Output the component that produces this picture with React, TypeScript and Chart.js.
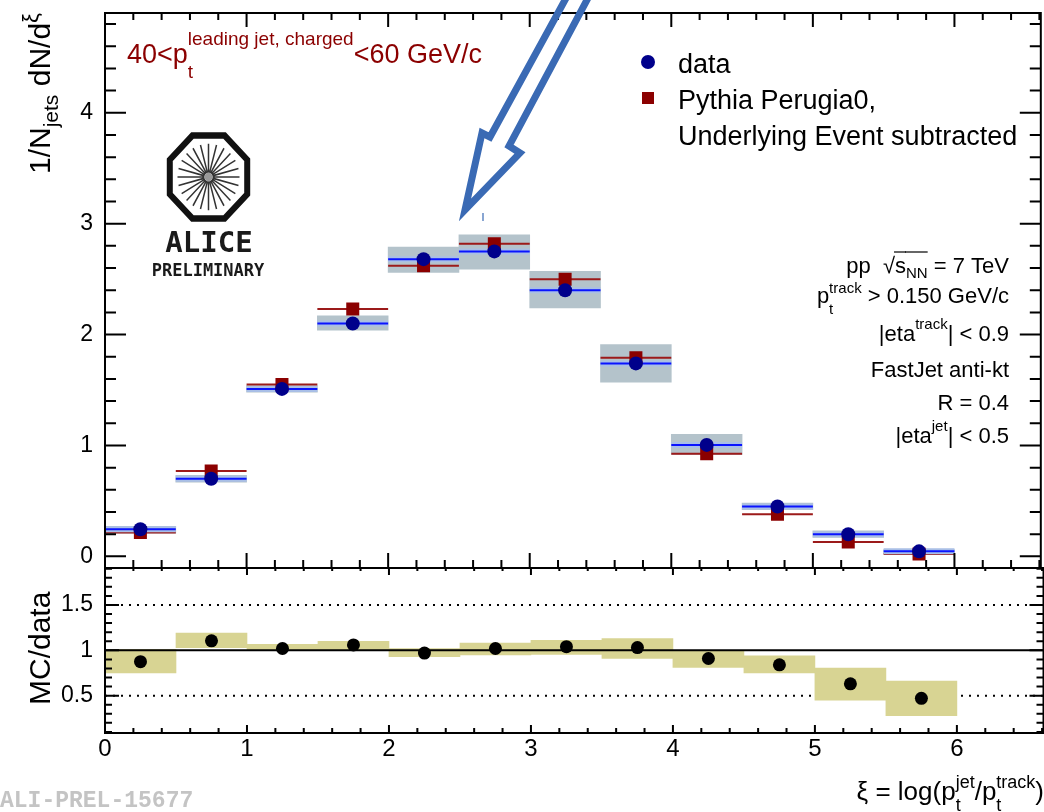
import React, { useEffect, useRef } from "react";
import { Chart, registerables } from "chart.js";

Chart.register(...registerables);

const FONT = '"Liberation Sans", Arial, Helvetica, sans-serif';
const MONO = '"DejaVu Sans Mono", "Liberation Mono", monospace';

// ---------- data ----------
const binCenters = [0.25, 0.75, 1.25, 1.75, 2.25, 2.75, 3.25, 3.75, 4.25, 4.75, 5.25, 5.75];
const binHalfWidth = 0.25;
const dataValues = [0.245, 0.70, 1.51, 2.10, 2.68, 2.75, 2.40, 1.74, 1.005, 0.45, 0.20, 0.045];
const dataSysLow = [0.21, 0.67, 1.48, 2.04, 2.56, 2.59, 2.24, 1.57, 0.92, 0.42, 0.17, 0.022];
const dataSysHigh = [0.27, 0.73, 1.54, 2.17, 2.79, 2.90, 2.57, 1.91, 1.10, 0.48, 0.23, 0.06];
const mcValues = [0.215, 0.77, 1.55, 2.23, 2.62, 2.82, 2.50, 1.79, 0.925, 0.38, 0.13, 0.021];
const ratioValues = [0.875, 1.105, 1.02, 1.06, 0.97, 1.02, 1.04, 1.03, 0.91, 0.84, 0.63, 0.47];
const ratioSysLow = [0.75, 1.03, 1.0, 1.0, 0.93, 0.95, 0.955, 0.91, 0.81, 0.75, 0.45, 0.28];
const ratioSysHigh = [1.01, 1.19, 1.066, 1.10, 1.02, 1.08, 1.11, 1.13, 1.0, 0.94, 0.805, 0.66];
const ratioSolidLevels = [1];
const ratioDottedLevels = [0.5, 1.5];

const xTicks = [0, 1, 2, 3, 4, 5, 6];
const topYTicks = [0, 1, 2, 3, 4];
const ratioYTicks = [0.5, 1, 1.5];

const X_MIN = 0;
const X_MAX = 6.61;
const TOP_Y_MIN = -0.105;
const TOP_Y_MAX = 4.9;
const RATIO_Y_MIN = 0.088;
const RATIO_Y_MAX = 1.908;

// annotation arrow outline (decoration, not data)
const ARROW = [
  [570.5, -10], [490, 137], [482, 133], [465, 210], [520, 153], [509, 146], [592.3, -10],
];

// ---------- helpers ----------
function hSegments(values: number[]) {
  const pts: { x: number; y: number }[] = [];
  binCenters.forEach((c, i) => {
    pts.push({ x: c - binHalfWidth, y: values[i] });
    pts.push({ x: c + binHalfWidth, y: values[i] });
    pts.push({ x: c + binHalfWidth, y: NaN });
  });
  return pts;
}

function levelLine(level: number) {
  return [{ x: X_MIN, y: level }, { x: X_MAX, y: level }];
}

function drawAxisTicks(
  ctx: CanvasRenderingContext2D, scale: any, fixed: number, vertical: boolean,
  majorStep: number, minorStep: number, majLen: number, minLen: number, dir: number
) {
  const k0 = Math.ceil(scale.min / minorStep - 1e-6);
  const k1 = Math.floor(scale.max / minorStep + 1e-6);
  ctx.beginPath();
  for (let k = k0; k <= k1; k++) {
    const v = k * minorStep;
    const r = v / majorStep;
    const isMaj = Math.abs(r - Math.round(r)) < 1e-6;
    const len = isMaj ? majLen : minLen;
    const p = scale.getPixelForValue(v);
    if (vertical) {
      ctx.moveTo(fixed, p);
      ctx.lineTo(fixed + dir * len, p);
    } else {
      ctx.moveTo(p, fixed);
      ctx.lineTo(p, fixed + dir * len);
    }
  }
  ctx.stroke();
}

type Seg = { t: string; size: number; dy?: number; over?: number; alt?: { t: string; size: number; dy: number } };

function segWidth(ctx: CanvasRenderingContext2D, s: Seg) {
  ctx.font = `${s.size}px ${FONT}`;
  let w = ctx.measureText(s.t).width;
  if (s.alt) {
    ctx.font = `${s.alt.size}px ${FONT}`;
    w = Math.max(w, ctx.measureText(s.alt.t).width);
  }
  return w;
}

function drawRich(ctx: CanvasRenderingContext2D, segs: Seg[], x: number, y: number, align: string, color: string) {
  const widths = segs.map((s) => segWidth(ctx, s));
  const total = widths.reduce((a, b) => a + b, 0);
  let cx = align === "right" ? x - total : align === "center" ? x - total / 2 : x;
  ctx.fillStyle = color;
  ctx.strokeStyle = color;
  ctx.textAlign = "left";
  ctx.textBaseline = "alphabetic";
  segs.forEach((s, i) => {
    ctx.font = `${s.size}px ${FONT}`;
    ctx.fillText(s.t, cx, y + (s.dy || 0));
    if (s.alt) {
      ctx.font = `${s.alt.size}px ${FONT}`;
      ctx.fillText(s.alt.t, cx, y + s.alt.dy);
    }
    if (s.over !== undefined) {
      ctx.lineWidth = 1.2;
      ctx.beginPath();
      ctx.moveTo(cx - 1, y + s.over);
      ctx.lineTo(cx + widths[i], y + s.over);
      ctx.stroke();
    }
    cx += widths[i];
  });
}

function drawFrame(ctx: CanvasRenderingContext2D, a: any) {
  ctx.lineWidth = 2;
  ctx.strokeStyle = "#000";
  ctx.strokeRect(a.left, a.top, a.right - a.left, a.bottom - a.top);
}

// ---------- plugins ----------
const topDecor = {
  id: "topDecor",
  afterDraw(chart: any) {
    const ctx: CanvasRenderingContext2D = chart.ctx;
    const a = chart.chartArea;
    const xs = chart.scales.x;
    const ys = chart.scales.y;
    ctx.save();
    drawFrame(ctx, a);
    ctx.lineWidth = 2;
    ctx.strokeStyle = "#000";
    drawAxisTicks(ctx, ys, a.left, true, 1, 0.2, 21, 11, 1);
    drawAxisTicks(ctx, ys, a.right, true, 1, 0.2, 21, 11, -1);
    drawAxisTicks(ctx, xs, a.top, false, 1, 0.2, 14, 7, 1);
    drawAxisTicks(ctx, xs, a.bottom, false, 1, 0.2, 15, 8, -1);

    // title
    drawRich(ctx, [
      { t: "40<p", size: 27 },
      { t: "t", size: 19, dy: 15, alt: { t: "leading jet, charged", size: 19, dy: -18 } },
      { t: "<60 GeV/c", size: 27 },
    ], 127, 63, "left", "#8b0000");

    // legend
    ctx.fillStyle = "#00008b";
    ctx.beginPath();
    ctx.arc(648, 62, 7, 0, Math.PI * 2);
    ctx.fill();
    ctx.fillStyle = "#8b0000";
    ctx.fillRect(642, 92, 12, 12);
    ctx.fillStyle = "#000";
    ctx.font = `27px ${FONT}`;
    ctx.textAlign = "left";
    ctx.textBaseline = "alphabetic";
    ctx.fillText("data", 678, 73);
    ctx.fillText("Pythia Perugia0,", 678, 109);
    ctx.fillText("Underlying Event subtracted", 678, 145);

    // info block
    const R = 1009;
    drawRich(ctx, [
      { t: "pp  ", size: 22 },
      { t: "\u221A", size: 22 },
      { t: "s", size: 22, over: -21 },
      { t: "NN", size: 15, dy: 5, over: -21 },
      { t: " = 7 TeV", size: 22 },
    ], R, 273, "right", "#000");
    drawRich(ctx, [
      { t: "p", size: 22 },
      { t: "t", size: 15, dy: 11, alt: { t: "track", size: 15, dy: -10 } },
      { t: " > 0.150 GeV/c", size: 22 },
    ], R, 303, "right", "#000");
    drawRich(ctx, [
      { t: "|eta", size: 22 },
      { t: "track", size: 15, dy: -12 },
      { t: "| < 0.9", size: 22 },
    ], R, 341, "right", "#000");
    drawRich(ctx, [{ t: "FastJet anti-kt", size: 22 }], R, 377, "right", "#000");
    drawRich(ctx, [{ t: "R = 0.4", size: 22 }], R, 410, "right", "#000");
    drawRich(ctx, [
      { t: "|eta", size: 22 },
      { t: "jet", size: 15, dy: -12 },
      { t: "| < 0.5", size: 22 },
    ], R, 443, "right", "#000");

    // y title (rotated)
    ctx.save();
    ctx.translate(50, 174);
    ctx.rotate(-Math.PI / 2);
    drawRich(ctx, [
      { t: "1/N", size: 30 },
      { t: "jets", size: 21, dy: 8 },
      { t: " dN/d", size: 30 },
      { t: "\u03BE", size: 22, dy: -12 },
    ], 0, 0, "left", "#000");
    ctx.restore();

    // ALICE logo
    ctx.save();
    ctx.translate(208.5, 177);
    ctx.save();
    ctx.scale(1, 1.07);
    ctx.strokeStyle = "#111";
    ctx.lineWidth = 6;
    ctx.lineJoin = "miter";
    ctx.beginPath();
    for (let k = 0; k < 8; k++) {
      const ang = ((22.5 + 45 * k) * Math.PI) / 180;
      const px = 41.9 * Math.cos(ang);
      const py = 41.9 * Math.sin(ang);
      if (k === 0) ctx.moveTo(px, py);
      else ctx.lineTo(px, py);
    }
    ctx.closePath();
    ctx.stroke();
    ctx.lineWidth = 1.5;
    ctx.strokeStyle = "#333";
    ctx.beginPath();
    for (let k = 0; k < 24; k++) {
      const ang = (k * 15 * Math.PI) / 180;
      ctx.moveTo(4 * Math.cos(ang), 4 * Math.sin(ang));
      ctx.lineTo(31 * Math.cos(ang), 31 * Math.sin(ang));
    }
    ctx.stroke();
    ctx.fillStyle = "#999";
    ctx.beginPath();
    ctx.arc(0, 0, 4, 0, Math.PI * 2);
    ctx.fill();
    ctx.restore();
    ctx.restore();
    ctx.fillStyle = "#1a1a1a";
    ctx.textAlign = "center";
    ctx.font = `bold 29px ${MONO}`;
    ctx.fillText("ALICE", 209, 252);
    ctx.font = `bold 17px ${MONO}`;
    ctx.fillText("PRELIMINARY", 208, 276);

    // arrow annotation
    ctx.strokeStyle = "#3a6ab4";
    ctx.lineWidth = 7;
    ctx.lineJoin = "miter";
    ctx.beginPath();
    ARROW.forEach((p, i) => (i === 0 ? ctx.moveTo(p[0], p[1]) : ctx.lineTo(p[0], p[1])));
    ctx.closePath();
    ctx.stroke();
    ctx.lineWidth = 1.2;
    ctx.beginPath();
    ctx.moveTo(483, 213);
    ctx.lineTo(483, 221);
    ctx.stroke();
    ctx.restore();
  },
};

const bottomDecor = {
  id: "bottomDecor",
  afterDraw(chart: any) {
    const ctx: CanvasRenderingContext2D = chart.ctx;
    const a = chart.chartArea;
    const xs = chart.scales.x;
    const ys = chart.scales.y;
    ctx.save();
    drawFrame(ctx, a);
    ctx.lineWidth = 2;
    ctx.strokeStyle = "#000";
    drawAxisTicks(ctx, ys, a.left, true, 0.5, 0.1, 14, 7, 1);
    drawAxisTicks(ctx, ys, a.right, true, 0.5, 0.1, 14, 7, -1);
    drawAxisTicks(ctx, xs, a.top, false, 1, 0.2, 7, 3, 1);
    drawAxisTicks(ctx, xs, a.bottom, false, 1, 0.2, 8, 5, -1);

    // y title
    ctx.save();
    ctx.translate(50, 705);
    ctx.rotate(-Math.PI / 2);
    drawRich(ctx, [{ t: "MC/data", size: 30 }], 0, 0, "left", "#000");
    ctx.restore();

    // x title
    drawRich(ctx, [
      { t: "\u03BE = log(p", size: 26 },
      { t: "t", size: 18, dy: 11, alt: { t: "jet", size: 18, dy: -12 } },
      { t: "/p", size: 26 },
      { t: "t", size: 18, dy: 11, alt: { t: "track", size: 18, dy: -12 } },
      { t: ")", size: 26 },
    ], 1044, 800, "right", "#000");

    // preliminary id
    ctx.fillStyle = "#c4c4c4";
    ctx.textAlign = "left";
    ctx.textBaseline = "alphabetic";
    ctx.font = `bold 23px "Liberation Mono", "DejaVu Sans Mono", monospace`;
    ctx.fillText("ALI-PREL-15677", 0, 807);
    ctx.restore();
  },
};

function yAxisFit(s: any) {
  s.width = 105;
  s.paddingTop = 0;
  s.paddingBottom = 0;
}

// ---------- configs ----------
function topConfig(): any {
  return {
    type: "line",
    data: {
      datasets: [
        {
          type: "bar",
          data: binCenters.map((c, i) => ({ x: c, y: [dataSysLow[i], dataSysHigh[i]] })),
          backgroundColor: "#b4c3cb",
          borderWidth: 0,
          barPercentage: 1,
          categoryPercentage: 1,
          order: 10,
        },
        {
          type: "line",
          data: hSegments(mcValues),
          borderColor: "#9c1a1a",
          borderWidth: 2,
          pointRadius: 0,
          spanGaps: false,
          order: 8,
        },
        {
          type: "line",
          data: hSegments(dataValues),
          borderColor: "#a9bfe6",
          borderWidth: 6,
          pointRadius: 0,
          spanGaps: false,
          order: 7,
        },
        {
          type: "line",
          data: hSegments(dataValues),
          borderColor: "#0a14ff",
          borderWidth: 2,
          pointRadius: 0,
          spanGaps: false,
          order: 6,
        },
        {
          type: "line",
          data: binCenters.map((c, i) => ({ x: c, y: mcValues[i] })),
          showLine: false,
          pointStyle: "rect",
          pointRadius: 9.2,
          pointBackgroundColor: "#8b0000",
          pointBorderWidth: 0,
          order: 4,
        },
        {
          type: "line",
          data: binCenters.map((c, i) => ({ x: c, y: dataValues[i] })),
          showLine: false,
          pointStyle: "circle",
          pointRadius: 7,
          pointBackgroundColor: "#00008b",
          pointBorderWidth: 0,
          order: 2,
        },
      ],
    },
    options: {
      animation: false,
      responsive: false,
      devicePixelRatio: 1,
      events: [],
      layout: { padding: { left: 0, right: 4, top: 13, bottom: 812 - 568 } },
      plugins: { legend: { display: false }, tooltip: { enabled: false } },
      scales: {
        x: { type: "linear", min: X_MIN, max: X_MAX, offset: false, display: false },
        y: {
          type: "linear",
          min: TOP_Y_MIN,
          max: TOP_Y_MAX,
          position: "left",
          afterFit: yAxisFit,
          afterBuildTicks: (s: any) => {
            s.ticks = topYTicks.map((v) => ({ value: v }));
          },
          ticks: {
            font: { family: FONT, size: 23 },
            color: "#000",
            padding: 12,
            callback: (v: any) => String(Number(v)),
          },
          grid: { display: false, drawTicks: false },
          border: { display: false },
        },
      },
    },
    plugins: [topDecor],
  };
}

function bottomConfig(): any {
  return {
    type: "line",
    data: {
      datasets: [
        ...ratioDottedLevels.map((lv) => ({
          type: "line",
          data: levelLine(lv),
          borderColor: "#000",
          borderWidth: 2,
          borderDash: [2, 6],
          pointRadius: 0,
          order: 12,
        })),
        {
          type: "bar",
          data: binCenters.map((c, i) => ({ x: c, y: [ratioSysLow[i], ratioSysHigh[i]] })),
          backgroundColor: "#d8d493",
          borderWidth: 0,
          barPercentage: 1,
          categoryPercentage: 1,
          order: 10,
        },
        ...ratioSolidLevels.map((lv) => ({
          type: "line",
          data: levelLine(lv),
          borderColor: "#000",
          borderWidth: 2,
          pointRadius: 0,
          order: 5,
        })),
        {
          type: "line",
          data: binCenters.map((c, i) => ({ x: c, y: ratioValues[i] })),
          showLine: false,
          pointStyle: "circle",
          pointRadius: 6.5,
          pointBackgroundColor: "#000",
          pointBorderWidth: 0,
          order: 1,
        },
      ],
    },
    options: {
      animation: false,
      responsive: false,
      devicePixelRatio: 1,
      events: [],
      layout: { padding: { left: 0, right: 4, top: 568, bottom: 0 } },
      plugins: { legend: { display: false }, tooltip: { enabled: false } },
      scales: {
        x: {
          type: "linear",
          min: X_MIN,
          max: X_MAX,
          offset: false,
          afterFit: (s: any) => {
            s.height = 79;
            s.paddingLeft = 0;
            s.paddingRight = 0;
          },
          afterBuildTicks: (s: any) => {
            s.ticks = xTicks.map((v) => ({ value: v }));
          },
          ticks: {
            font: { family: FONT, size: 24 },
            color: "#000",
            padding: 2,
            maxRotation: 0,
            autoSkip: false,
            callback: (v: any) => String(Number(v)),
          },
          grid: { display: false, drawTicks: false },
          border: { display: false },
        },
        y: {
          type: "linear",
          min: RATIO_Y_MIN,
          max: RATIO_Y_MAX,
          position: "left",
          afterFit: yAxisFit,
          afterBuildTicks: (s: any) => {
            s.ticks = ratioYTicks.map((v) => ({ value: v }));
          },
          ticks: {
            font: { family: FONT, size: 23 },
            color: "#000",
            padding: 12,
            callback: (v: any) => String(Number(v)),
          },
          grid: { display: false, drawTicks: false },
          border: { display: false },
        },
      },
    },
    plugins: [bottomDecor],
  };
}

export default function App() {
  const topRef = useRef<HTMLCanvasElement>(null);
  const botRef = useRef<HTMLCanvasElement>(null);

  useEffect(() => {
    document.body.style.margin = "0";
    const c1 = new Chart(topRef.current as HTMLCanvasElement, topConfig());
    const c2 = new Chart(botRef.current as HTMLCanvasElement, bottomConfig());
    return () => {
      c1.destroy();
      c2.destroy();
    };
  }, []);

  const canvasStyle: React.CSSProperties = { position: "absolute", left: 0, top: 0, width: 1050, height: 812 };
  return (
    <div style={{ position: "fixed", left: 0, top: 0, width: 1044, height: 812, overflow: "hidden", background: "#fff" }}>
      <canvas ref={botRef} width={1050} height={812} style={canvasStyle} />
      <canvas ref={topRef} width={1050} height={812} style={canvasStyle} />
    </div>
  );
}
